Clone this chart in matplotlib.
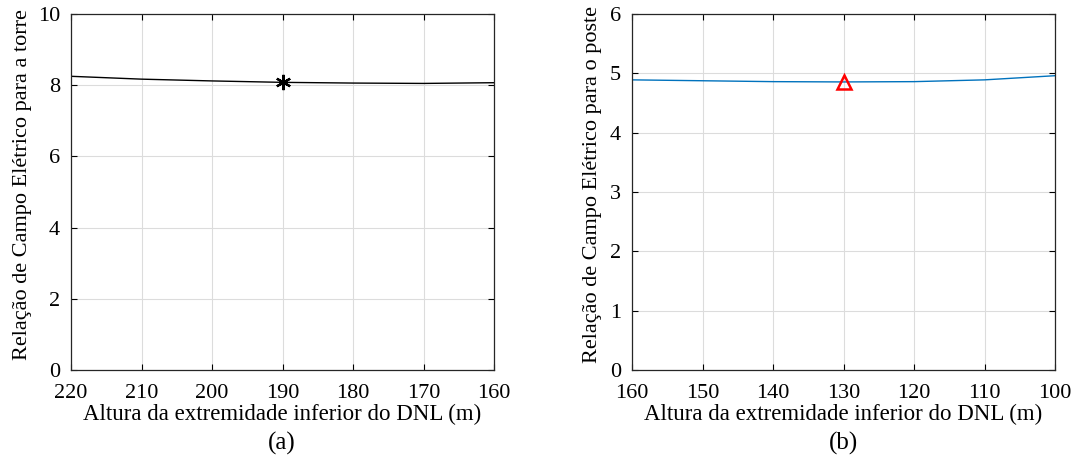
import matplotlib.pyplot as plt

plt.rcParams['font.family'] = ['Liberation Serif', 'DejaVu Serif']

# (a) torre
x_torre = [220, 210, 200, 190, 180, 170, 160]
y_torre = [8.25, 8.17, 8.12, 8.08, 8.06, 8.05, 8.07]
x_torre_mark = 190
y_torre_mark = 8.08

# (b) poste
x_poste = [160, 150, 140, 130, 120, 110, 100]
y_poste = [4.89, 4.875, 4.86, 4.855, 4.86, 4.89, 4.96]
x_poste_mark = 130
y_poste_mark = 4.86

xlabel = 'Altura da extremidade inferior do DNL (m)'

fig = plt.figure(figsize=(10.71, 4.68), dpi=100)
ax1 = fig.add_axes([71/1071, 98/468, 423/1071, 356/468])
ax2 = fig.add_axes([632/1071, 98/468, 423/1071, 356/468])

def style(ax, ylab_x):
    ax.grid(True, color='#dcdcdc', linewidth=0.8)
    ax.set_axisbelow(True)
    ax.tick_params(direction='in', top=True, right=True, labelsize=16, length=4, width=0.8)
    ax.tick_params(axis='x', pad=10)
    ax.tick_params(axis='y', pad=8)
    for s in ax.spines.values():
        s.set_linewidth(0.9)
        s.set_color('#262626')
    ax.yaxis.set_label_coords(ylab_x, 0.52)

ax1.plot(x_torre, y_torre, color='black', linewidth=1)
ax1.plot(x_torre_mark, y_torre_mark, marker=(6, 2, 0), color='black', markersize=11,
         markeredgewidth=1.6, linestyle='none')
ax1.set_xlim(220, 160)
ax1.set_ylim(0, 10)
ax1.set_xticks(range(160, 221, 10))
ax1.set_yticks(range(0, 11, 2))
ax1.set_xlabel(xlabel, fontsize=16.5, labelpad=1)
ax1.set_ylabel('Relação de Campo Elétrico para a torre', fontsize=16)
style(ax1, -0.093)
fig.text(282/1071, 1 - 443/468, '(a)', ha='center', va='center', fontsize=18)

ax2.plot(x_poste, y_poste, color='#0072bd', linewidth=1)
ax2.plot(x_poste_mark, y_poste_mark, marker='^', color='red', markerfacecolor='none',
         markersize=10, markeredgewidth=1.8, linestyle='none')
ax2.set_xlim(160, 100)
ax2.set_ylim(0, 6)
ax2.set_xticks(range(100, 161, 10))
ax2.set_yticks(range(0, 7))
ax2.set_xlabel(xlabel, fontsize=16.5, labelpad=1)
ax2.set_ylabel('Relação de Campo Elétrico para o poste', fontsize=16)
style(ax2, -0.07)
fig.text(843/1071, 1 - 443/468, '(b)', ha='center', va='center', fontsize=18)

fig.savefig('out.png', dpi=100)
